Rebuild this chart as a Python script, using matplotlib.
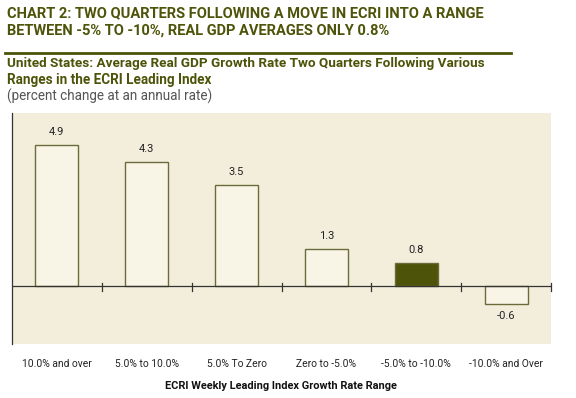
import matplotlib
matplotlib.use("Agg")
import matplotlib.pyplot as plt
from matplotlib.lines import Line2D

categories = ["10.0% and over", "5.0% to 10.0%", "5.0% To Zero",
              "Zero to -5.0%", "-5.0% to -10.0%", "-10.0% and Over"]
values = [4.9, 4.3, 3.5, 1.3, 0.8, -0.6]
value_labels = ["4.9", "4.3", "3.5", "1.3", "0.8", "-0.6"]
highlight = 4

olive = "#4D5409"
edge = "#6B6B3A"
bg = "#F3EEDC"
face = "#F8F5E6"

fam = ["Roboto", "DejaVu Sans"]

fig = plt.figure(figsize=(5.76, 3.98), dpi=100)
renderer = fig.canvas.get_renderer()


def fit_text(xpx, ypx, s, width_px, size, **kw):
    t = fig.text(xpx / 576, 1 - ypx / 398, s, fontsize=size, family=fam, **kw)
    w = t.get_window_extent(renderer=renderer).width
    t.set_fontsize(size * width_px / w)
    return t


ax = fig.add_axes([12/576, 1-344/398, (551-12)/576, (344-113)/398])
ax.set_facecolor(bg)

x = [i + 0.5 for i in range(len(categories))]
colors = [olive if i == highlight else face for i in range(len(categories))]
ax.bar(x, values, width=0.48, color=colors, edgecolor=edge, linewidth=1.0, zorder=3)

for xi, v, lab in zip(x, values, value_labels):
    off = 0.27 if v >= 0 else -0.27
    ax.text(xi, v + off, lab, ha="center", va="bottom" if v >= 0 else "top",
            fontsize=8, color="#222222", family=fam)

ax.set_xlim(0, 6)
ax.set_ylim(-2, 6)
ax.axhline(0, color="#333333", linewidth=0.9, zorder=4)
for t in range(1, 7):
    ax.plot([t, t], [-0.17, 0.12], color="#333333", linewidth=0.9, zorder=4, clip_on=False)

for s in ["top", "right", "bottom"]:
    ax.spines[s].set_visible(False)
ax.spines["left"].set_color("#333333")
ax.spines["left"].set_linewidth(0.9)
ax.set_yticks([])
ax.set_xticks(x)
ax.set_xticklabels(categories, fontsize=7.4, color="#222222", family=fam)
ax.tick_params(axis="x", length=0, pad=11)

fit_text(165, 386, "ECRI Weekly Leading Index Growth Rate Range", 233, 7,
         ha="left", va="center", fontweight="bold", color="#111111")

fit_text(7, 13, "CHART 2: TWO QUARTERS FOLLOWING A MOVE IN ECRI INTO A RANGE", 476, 11,
         ha="left", va="center", fontweight="bold", color=olive)
fit_text(7, 31, "BETWEEN -5% TO -10%, REAL GDP AVERAGES ONLY 0.8%", 383, 11,
         ha="left", va="center", fontweight="bold", color=olive)
fig.add_artist(Line2D([5/576, 511/576], [1-53/398, 1-53/398], color=olive, linewidth=2.0))
fit_text(7, 63, "United States: Average Real GDP Growth Rate Two Quarters Following Various", 471, 8.5,
         ha="left", va="center", fontweight="bold", color=olive)
fit_text(7, 80, "Ranges in the ECRI Leading Index", 203, 8.5,
         ha="left", va="center", fontweight="bold", color=olive)
fit_text(7, 96, "(percent change at an annual rate)", 203, 8.5,
         ha="left", va="center", color="#555555")

fig.savefig("out.png", dpi=100, facecolor="white")
